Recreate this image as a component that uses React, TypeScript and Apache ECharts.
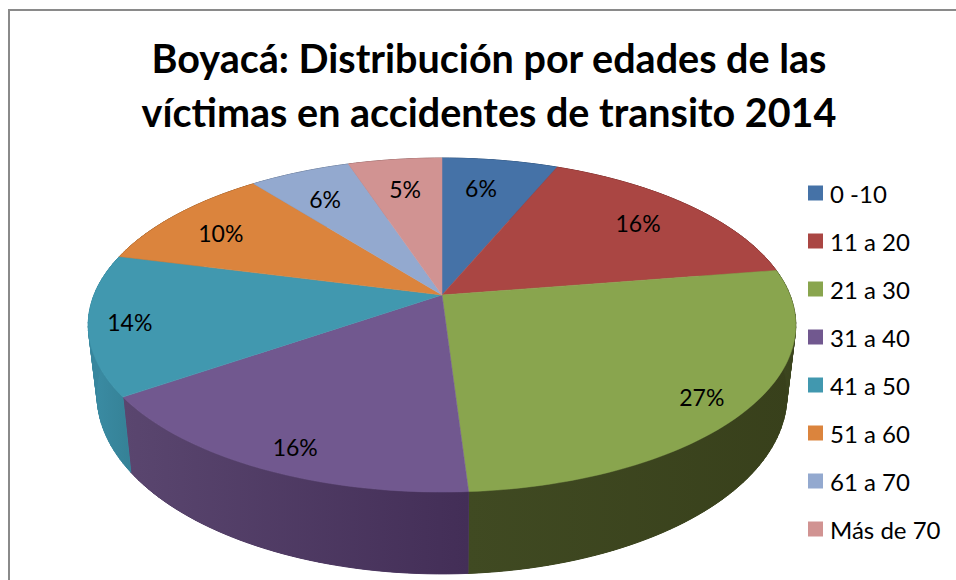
import React, { useEffect, useRef } from "react";
import * as echarts from "echarts";

const titleLines = ["Boyacá: Distribución por edades de las", "víctimas en accidentes de transito 2014"];
const categories = ["0 -10", "11 a 20", "21 a 30", "31 a 40", "41 a 50", "51 a 60", "61 a 70", "Más de 70"];
const values = [6.3, 16.2, 26.5, 16.4, 13.6, 10.4, 5.5, 5.1];
const percentLabels = ["6%", "16%", "27%", "16%", "14%", "10%", "6%", "5%"];

const topColors = ["#4572A7", "#AA4643", "#89A54E", "#71588F", "#4198AF", "#DB843D", "#93A9CF", "#D19392"];
// [right end of the wall, left end of the wall]
const wallColors: [string, string][] = [
  ["#2b4a70", "#2b4a70"],
  ["#6e2d2b", "#6e2d2b"],
  ["#38401b", "#404a22"],
  ["#432e57", "#5a466f"],
  ["#358196", "#3b8da5"],
  ["#8e5527", "#8e5527"],
  ["#5f6e87", "#5f6e87"],
  ["#885f5e", "#885f5e"],
];
// pixel nudges from the default label anchor (r = 0.8 on the mid angle)
const labelNudge = [
  [-9, 4], [-5, 1], [21, 13], [-7, 18], [-31, 4], [-5, 3], [0, 5], [2, 6],
];

const FONT = "Lato, Carlito, 'Open Sans', sans-serif";
const CX = 442, CY = 295, RX = 348, RZ = 161.6, K = 0.18;
const total = values.reduce((a, b) => a + b, 0);

function project(t: number, r: number): [number, number] {
  const x = r * Math.sin(t);
  const z = r * Math.cos(t);
  const d = 1 + K * z;
  return [CX + (RX * x) / d, CY - (RZ * z) / d];
}
function lower(p: [number, number]): [number, number] {
  return [CX + (p[0] - CX) * 0.975, p[1] * 1.07 + 47.4];
}
function angles(i: number): [number, number] {
  let before = 0;
  for (let k = 0; k < i; k++) before += values[k];
  const a = (before / total) * Math.PI * 2;
  return [a, a + (values[i] / total) * Math.PI * 2];
}
function rim(i: number): [number, number][] {
  const [a, b] = angles(i);
  const pts: [number, number][] = [];
  const n = Math.max(8, Math.ceil((b - a) * 40));
  for (let s = 0; s <= n; s++) pts.push(project(a + ((b - a) * s) / n, 1));
  return pts;
}

// Flat strips fill the silhouette between the two discs; the gradient polygon shades the wall over them.
const renderWall = (params: any) => {
  const i = params.dataIndex;
  const top = rim(i);
  const c = wallColors[i];
  const base = echarts.color.lerp(0.5, [c[0], c[1]]);
  const children: any[] = [];
  for (let s = 0; s < top.length - 1; s++) {
    children.push({
      type: "polygon",
      shape: { points: [top[s], top[s + 1], lower(top[s + 1]), lower(top[s])] },
      style: { fill: base, stroke: base, lineWidth: 1 },
    });
  }
  children.push({
    type: "polygon",
    shape: { points: [...top, ...top.map(lower).reverse()] },
    style: {
      fill: new echarts.graphic.LinearGradient(0, 0, 1, 0, [
        { offset: 0, color: c[1] },
        { offset: 1, color: c[0] },
      ]),
    },
  });
  return { type: "group", children };
};

const renderSlice = (i: number) => (_params: any) => ({
  type: "polygon",
  shape: { points: [[CX, CY], ...rim(i)] },
  style: { fill: topColors[i], stroke: topColors[i], lineWidth: 0.5 },
});

const renderLabel = (params: any) => {
  const i = params.dataIndex;
  const [a, b] = angles(i);
  const p = project((a + b) / 2, 0.8);
  return {
    type: "text",
    style: {
      text: percentLabels[i],
      x: p[0] + labelNudge[i][0],
      y: p[1] + labelNudge[i][1],
      align: "center",
      verticalAlign: "middle",
      fontFamily: FONT,
      fontSize: 23,
      fill: "#000000",
    },
  };
};

export default function App() {
  const ref = useRef<HTMLDivElement>(null);
  useEffect(() => {
    document.body.style.margin = "0";
    const chart = echarts.init(ref.current!, undefined, { renderer: "svg" });
    chart.setOption({
      animation: false,
      backgroundColor: "#ffffff",
      title: {
        text: titleLines.join("\n"),
        left: 484,
        top: 25,
        textAlign: "center",
        textStyle: { fontFamily: FONT, fontWeight: "bold", fontSize: 39.5, lineHeight: 54, color: "#000000" },
      },
      legend: {
        orient: "vertical",
        left: 808,
        top: 181,
        padding: 0,
        icon: "rect",
        itemWidth: 15,
        itemHeight: 15,
        itemGap: 24,
        selectedMode: false,
        data: categories,
        textStyle: { fontFamily: FONT, fontSize: 24, lineHeight: 24, color: "#000000", padding: [0, 0, 0, 2] },
      },
      graphic: [
        { type: "line", shape: { x1: 9, y1: 10, x2: 956, y2: 10 }, style: { stroke: "#8a8a8a", lineWidth: 2 } },
        { type: "line", shape: { x1: 9, y1: 9, x2: 9, y2: 580 }, style: { stroke: "#8a8a8a", lineWidth: 2 } },
      ],
      series: [
        { type: "custom", name: "caras", coordinateSystem: "none", z: 1, data: values, renderItem: renderWall, silent: true },
        ...categories.map((name, i) => ({
          type: "custom",
          name,
          coordinateSystem: "none",
          z: 2,
          data: [values[i]],
          itemStyle: { color: topColors[i] },
          renderItem: renderSlice(i),
          silent: true,
        })),
        { type: "custom", name: "etiquetas", coordinateSystem: "none", z: 3, data: values, renderItem: renderLabel, silent: true },
      ],
    });
    return () => chart.dispose();
  }, []);
  return <div ref={ref} style={{ width: 956, height: 580 }} />;
}
